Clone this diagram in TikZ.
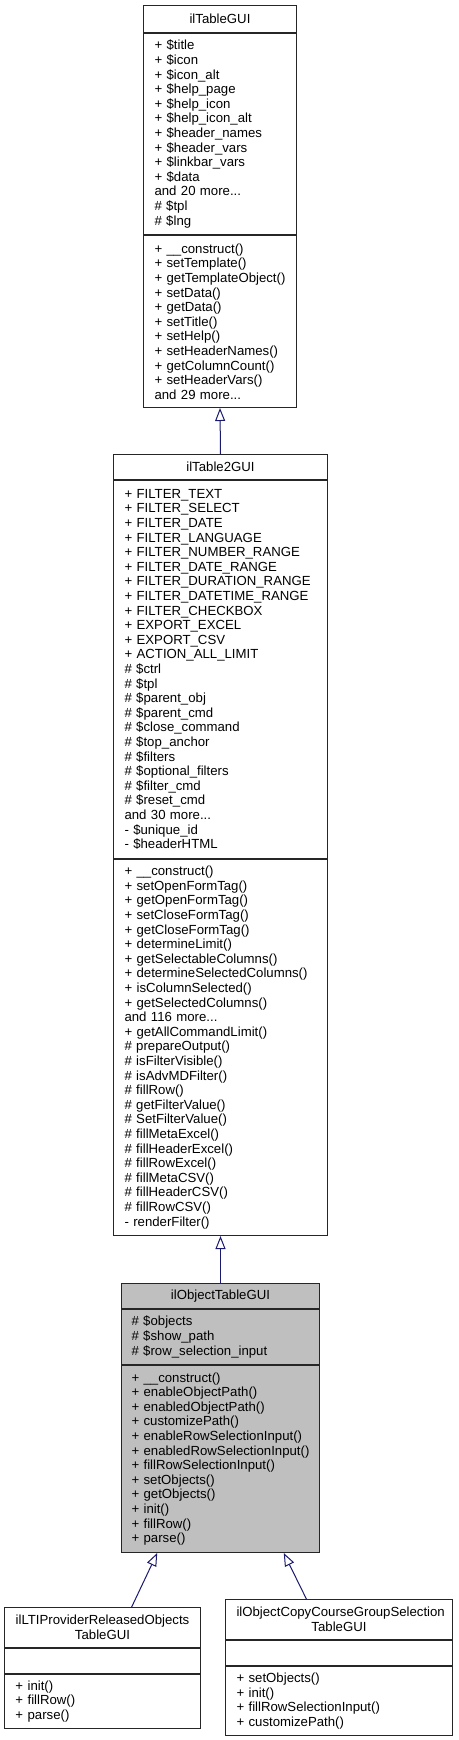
\documentclass[tikz,border=0pt]{standalone}
\usepackage{fontspec}
\setmainfont{Liberation Sans}
\usetikzlibrary{positioning,calc,arrows.meta}
\definecolor{edgeblue}{RGB}{25,25,112}
\definecolor{boxgray}{RGB}{191,191,191}
\newcommand{\umlfont}{\fontsize{13.2}{14.6}\selectfont\hyphenpenalty=10000 \exhyphenpenalty=10000 }
\tikzset{
  part/.style={draw=black!85, line width=1pt, inner xsep=11pt, inner ysep=0pt,
    font=\umlfont},
  clshead/.style={part, anchor=north west, align=center},
  clsbody/.style={part, align=left},
  inherit/.style={draw=edgeblue, line width=1pt, -{Triangle[open,length=13pt,width=10pt]}}
}

\begin{document}
\begin{tikzpicture}[x=1pt,y=-1pt]
      % Page frame, same size as the reference
      \useasboundingbox (0,0) rectangle (458,1740);
      % ilTableGUI
      \node[clshead, text width=131pt, minimum height=27pt] (tblT) at (143,5) {ilTableGUI};
      \node[clsbody, text width=131pt, minimum height=201pt, below=0pt of tblT] (tblA)
        {+ \$title\\+ \$icon\\+ \$icon\_alt\\+ \$help\_page\\+ \$help\_icon\\+ \$help\_icon\_alt\\+ \$header\_names\\+ \$header\_vars\\+ \$linkbar\_vars\\+ \$data\\and 20 more...\\\# \$tpl\\\# \$lng};
      \node[clsbody, text width=131pt, minimum height=172pt, below=0pt of tblA] (tblM)
        {+ \_\_construct()\\+ setTemplate()\\+ getTemplateObject()\\+ setData()\\+ getData()\\+ setTitle()\\+ setHelp()\\+ setHeaderNames()\\+ getColumnCount()\\+ setHeaderVars()\\and 29 more...};
      % ilTable2GUI
      \node[clshead, text width=192pt, minimum height=25pt] (tbl2T) at (113,454) {ilTable2GUI};
      \node[clsbody, text width=192pt, minimum height=378pt, below=0pt of tbl2T] (tbl2A)
        {+ FILTER\_TEXT\\+ FILTER\_SELECT\\+ FILTER\_DATE\\+ FILTER\_LANGUAGE\\+ FILTER\_NUMBER\_RANGE\\+ FILTER\_DATE\_RANGE\\+ FILTER\_DURATION\_RANGE\\+ FILTER\_DATETIME\_RANGE\\+ FILTER\_CHECKBOX\\+ EXPORT\_EXCEL\\+ EXPORT\_CSV\\+ ACTION\_ALL\_LIMIT\\\# \$ctrl\\\# \$tpl\\\# \$parent\_obj\\\# \$parent\_cmd\\\# \$close\_command\\\# \$top\_anchor\\\# \$filters\\\# \$optional\_filters\\\# \$filter\_cmd\\\# \$reset\_cmd\\and 30 more...\\- \$unique\_id\\- \$headerHTML};
      \node[clsbody, text width=192pt, minimum height=376pt, below=0pt of tbl2A] (tbl2M)
        {+ \_\_construct()\\+ setOpenFormTag()\\+ getOpenFormTag()\\+ setCloseFormTag()\\+ getCloseFormTag()\\+ determineLimit()\\+ getSelectableColumns()\\+ determineSelectedColumns()\\+ isColumnSelected()\\+ getSelectedColumns()\\and 116 more...\\+ getAllCommandLimit()\\\# prepareOutput()\\\# isFilterVisible()\\\# isAdvMDFilter()\\\# fillRow()\\\# getFilterValue()\\\# SetFilterValue()\\\# fillMetaExcel()\\\# fillHeaderExcel()\\\# fillRowExcel()\\\# fillMetaCSV()\\\# fillHeaderCSV()\\\# fillRowCSV()\\- renderFilter()};
      % ilObjectTableGUI (highlighted)
      \node[clshead, fill=boxgray, inner xsep=10pt, text width=178pt, minimum height=25pt] (objT) at (121,1283) {ilObjectTableGUI};
      \node[clsbody, fill=boxgray, inner xsep=10pt, text width=178pt, minimum height=55pt, below=0pt of objT] (objA)
        {\# \$objects\\\# \$show\_path\\\# \$row\_selection\_input};
      \node[clsbody, fill=boxgray, inner xsep=10pt, text width=178pt, minimum height=187pt, below=0pt of objA] (objM)
        {+ \_\_construct()\\+ enableObjectPath()\\+ enabledObjectPath()\\+ customizePath()\\+ enableRowSelectionInput()\\+ enabledRowSelectionInput()\\+ fillRowSelectionInput()\\+ setObjects()\\+ getObjects()\\+ init()\\+ fillRow()\\+ parse()};
      % ilLTIProviderReleasedObjectsTableGUI
      \node[clshead, text width=174pt, minimum height=40pt] (ltiT) at (4,1607) {ilLTIProviderReleasedObjects\\TableGUI};
      \node[clsbody, text width=174pt, minimum height=25pt, below=0pt of ltiT] (ltiA) {};
      \node[clsbody, text width=174pt, minimum height=54pt, below=0pt of ltiA] (ltiM)
        {+ init()\\+ fillRow()\\+ parse()};
      % ilObjectCopyCourseGroupSelectionTableGUI
      \node[clshead, text width=205pt, minimum height=40pt] (copyT) at (225,1599) {ilObjectCopyCourseGroupSelection\\TableGUI};
      \node[clsbody, text width=205pt, minimum height=25pt, below=0pt of copyT] (copyA) {};
      \node[clsbody, text width=205pt, minimum height=69pt, below=0pt of copyA] (copyM)
        {+ setObjects()\\+ init()\\+ fillRowSelectionInput()\\+ customizePath()};
      % Inheritance arrows
      \draw[inherit] (tbl2T.north) -- (tblM.south);
      \draw[inherit] (objT.north) -- (tbl2M.south);
      \draw[inherit] ($(ltiT.north west)!0.648!(ltiT.north east)$) -- ($(objM.south west)!0.182!(objM.south east)$);
      \draw[inherit] ($(copyT.north west)!0.357!(copyT.north east)$) -- ($(objM.south west)!0.818!(objM.south east)$);
    \end{tikzpicture}
\end{document}
